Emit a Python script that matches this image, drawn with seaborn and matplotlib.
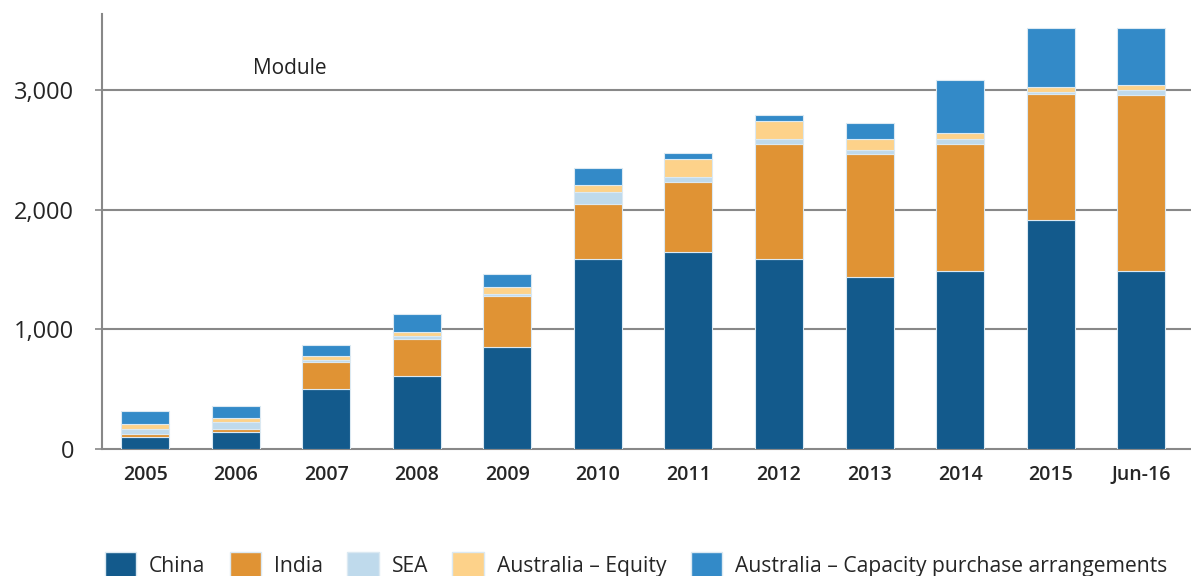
import numpy as np
import pandas as pd
import seaborn as sns
import matplotlib.pyplot as plt
from matplotlib.patches import Patch

sns.set_style('white')
plt.rcParams['font.family'] = ['Open Sans', 'DejaVu Sans']

# data (MW)
periods = ['2005', '2006', '2007', '2008', '2009', '2010',
           '2011', '2012', '2013', '2014', '2015', 'Jun-16']
china = [100, 147, 503, 612, 851, 1588, 1644, 1588, 1441, 1490, 1911, 1490]
india = [25, 23, 223, 309, 429, 463, 585, 960, 1021, 1060, 1052, 1467]
sea = [45, 60, 19, 25, 19, 97, 44, 42, 33, 44, 20, 45]
aus_equity = [41, 31, 36, 36, 58, 58, 150, 150, 95, 44, 44, 42]
aus_capacity = [109, 103, 92, 145, 106, 142, 47, 53, 137, 447, 487, 470]

series = ['China', 'India', 'SEA', 'Australia \u2013 Equity',
          'Australia \u2013 Capacity purchase arrangements']
values = [china, india, sea, aus_equity, aus_capacity]
colors = ['#135a8c', '#e09334', '#bfdaec', '#fdd28a', '#338ac8']

fig = plt.figure(figsize=(11.91, 5.76), dpi=100)
ax = fig.add_axes([0.0857, 0.22, 0.9143, 0.7557])

bottom = np.zeros(len(periods))
for name, vals, col in zip(series, values, colors):
    sns.barplot(x=periods, y=vals, bottom=bottom, color=col, saturation=1,
                width=0.53, edgecolor='#dbe9f2', linewidth=0.8, ax=ax, zorder=3)
    bottom = bottom + np.array(vals)

ax.set_xlim(-0.475, 11.55)
ax.set_ylim(0, 3634)
ax.set_yticks([0, 1000, 2000, 3000])
ax.set_yticklabels(['0', '1,000', '2,000', '3,000'], fontsize=17)
ax.tick_params(axis='y', left=True, length=5, width=1.2, color='#888888', pad=15)
ax.tick_params(axis='x', bottom=False, pad=8)
for lbl in ax.get_xticklabels():
    lbl.set_fontsize(14)
    lbl.set_fontweight('semibold')
ax.set_xlabel('')
ax.set_ylabel('')

for y in [1000, 2000, 3000]:
    ax.axhline(y, color='#888888', lw=1.5, zorder=1)

sns.despine(ax=ax, top=True, right=True)
ax.spines['left'].set_color('#888888')
ax.spines['left'].set_linewidth(1.5)
ax.spines['bottom'].set_color('#888888')
ax.spines['bottom'].set_linewidth(1.5)

ax.text(1.6, 3175, 'Module', fontsize=15, ha='center', va='center', color='#222222')

handles = [Patch(facecolor=c, edgecolor='#dbe9f2', label=s) for s, c in zip(series, colors)]
fig.legend(handles=handles, loc='lower left', bbox_to_anchor=(0.072, -0.035),
           ncol=5, frameon=False, fontsize=15.2, handlelength=1.5, handleheight=1.45,
           handletextpad=0.6, columnspacing=1.15)

fig.savefig('out.png', dpi=100)
